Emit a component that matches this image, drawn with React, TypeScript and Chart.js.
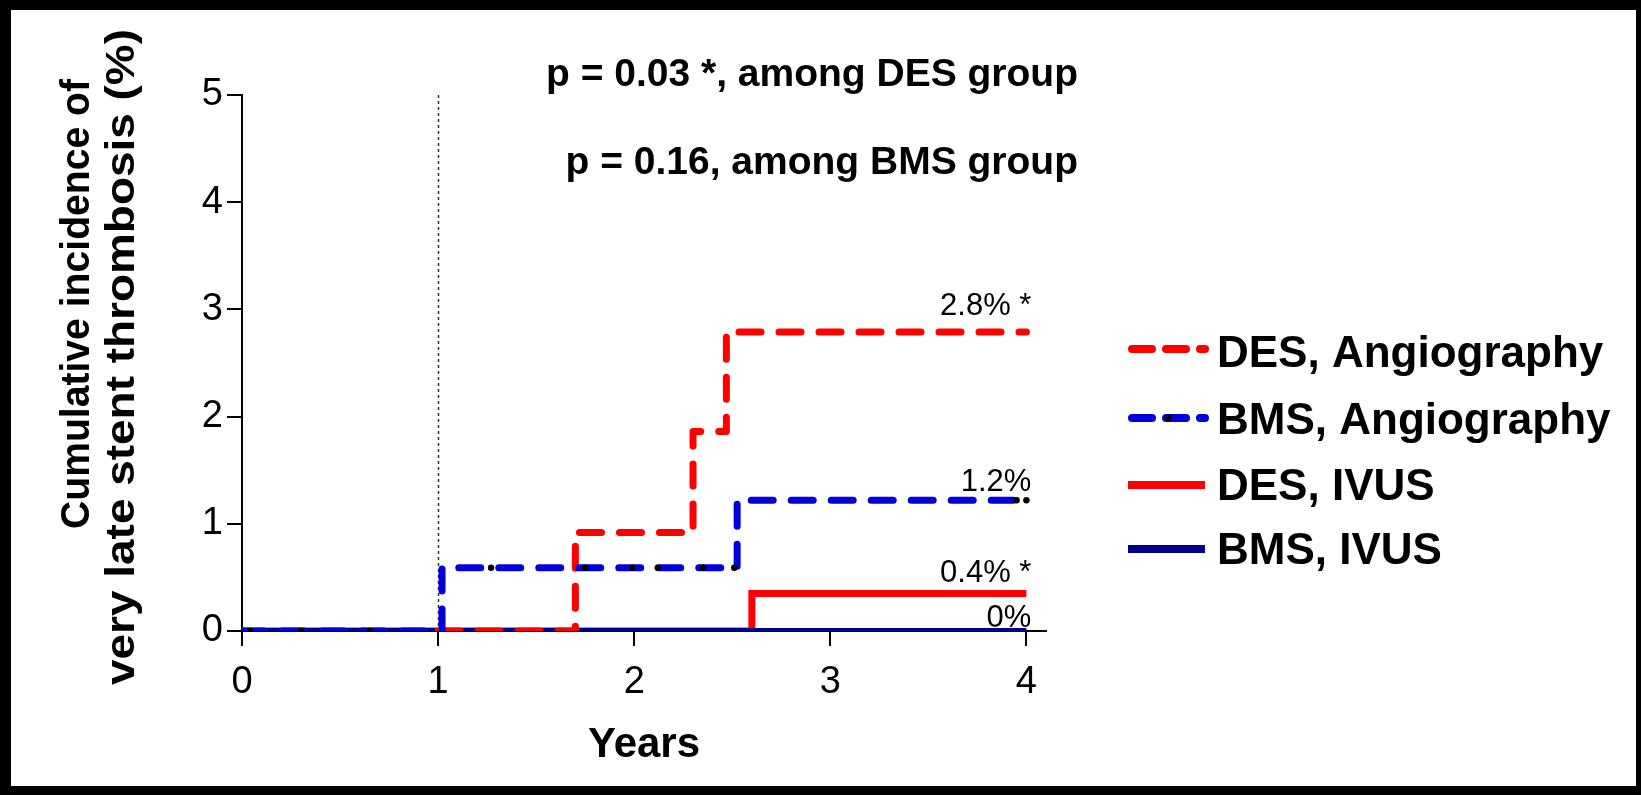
import React, { useEffect, useRef } from 'react';
import { Chart, registerables } from 'chart.js';

Chart.register(...registerables);

// ---------- data ----------
const xTickValues = [0, 1, 2, 3, 4];
const yTickValues = [0, 1, 2, 3, 4, 5];

const seriesNames = ['DES, Angiography', 'BMS, Angiography', 'DES, IVUS', 'BMS, IVUS'];

const desAngioYears = [1, 1.7, 2.3, 2.47, 4.0];
const desAngioPct = [0, 0.92, 1.86, 2.79, 2.79];

const bmsAngioYears = [0, 1.02, 2.525, 4.0];
const bmsAngioPct = [0, 0.59, 1.22, 1.22];

const desIvusYears = [0, 2.6, 4.0];
const desIvusPct = [0, 0.35, 0.35];

const bmsIvusYears = [0, 4.0];
const bmsIvusPct = [0, 0];

const censorYears = [0.04, 0.3, 0.65, 1.27, 1.75, 1.99, 2.12, 2.35, 2.51, 3.95, 4.0];
const censorPct = [0, 0, 0, 0.59, 0.59, 0.59, 0.59, 0.59, 0.59, 1.22, 1.22];

const endLabels = ['2.8% *', '1.2%', '0.4% *', '0%'];
const endLabelPct = [2.79, 1.22, 0.35, 0];

const pValueLines = ['p = 0.03 *, among DES group', 'p = 0.16, among BMS group'];
const yTitleLines = ['Cumulative incidence of', 'very late stent thrombosis (%)'];
const xTitle = 'Years';
const landmarkYear = 1;

// ---------- styles ----------
const FONT = "'Liberation Sans', Arial, Helvetica, sans-serif";
const RED = '#ff0000';
const BLUE = '#0000dc';
const NAVY = '#00008f';
const DASH = [22, 18];
const seriesColors = [RED, BLUE, RED, NAVY];
const seriesDashes = [DASH, DASH, [], []];
const seriesWidths = [7, 7, 7, 6];

const endLabelRise = [17, 9, 11, 4];

const pts = (xs: number[], ys: number[]) => xs.map((x, i) => ({ x, y: ys[i] }));

function stretchedText(
  ctx: CanvasRenderingContext2D,
  text: string,
  x: number,
  y: number,
  rotation: number,
  targetLen: number
) {
  const w = ctx.measureText(text).width;
  ctx.save();
  ctx.translate(x, y);
  ctx.rotate(rotation);
  ctx.scale(targetLen / w, 1);
  ctx.textAlign = 'center';
  ctx.textBaseline = 'alphabetic';
  ctx.fillText(text, 0, 0);
  ctx.restore();
}

const decorPlugin = {
  id: 'decor',
  beforeDraw(chart: any) {
    const { ctx, width, height } = chart;
    ctx.save();
    ctx.fillStyle = '#ffffff';
    ctx.fillRect(0, 0, width, height);
    ctx.fillStyle = '#000000';
    ctx.fillRect(0, 0, width, 10);
    ctx.fillRect(0, 0, 11, height);
    ctx.fillRect(width - 5, 0, 5, height);
    ctx.fillRect(0, height - 9, width, 9);
    ctx.restore();
  },
  beforeDatasetsDraw(chart: any) {
    const { ctx, scales } = chart;
    const xs = scales.x;
    const ys = scales.y;
    const px = Math.round(xs.getPixelForValue(landmarkYear)) + 0.5;
    ctx.save();
    ctx.strokeStyle = '#333333';
    ctx.lineWidth = 1.5;
    ctx.setLineDash([3, 3]);
    ctx.beginPath();
    ctx.moveTo(px, ys.getPixelForValue(yTickValues[yTickValues.length - 1]));
    ctx.lineTo(px, ys.getPixelForValue(0));
    ctx.stroke();
    ctx.restore();
  },
  afterDraw(chart: any) {
    const { ctx, scales, chartArea } = chart;
    const xs = scales.x;
    const ys = scales.y;
    ctx.save();
    ctx.fillStyle = '#000000';

    // p-values
    ctx.font = `bold 39px ${FONT}`;
    ctx.textAlign = 'right';
    ctx.textBaseline = 'alphabetic';
    ctx.fillText(pValueLines[0], 1078, 86);
    ctx.fillText(pValueLines[1], 1078, 174);

    // end labels
    ctx.font = `31px ${FONT}`;
    const endX = xs.getPixelForValue(xTickValues[xTickValues.length - 1]) + 5;
    endLabels.forEach((t, i) => {
      ctx.fillText(t, endX, ys.getPixelForValue(endLabelPct[i]) - endLabelRise[i]);
    });

    // y title (two lines, rotated)
    ctx.font = `bold 41px ${FONT}`;
    stretchedText(ctx, yTitleLines[0], 89, 304, -Math.PI / 2, 450);
    stretchedText(ctx, yTitleLines[1], 134, 357, -Math.PI / 2, 656);

    // x title
    ctx.font = `bold 42px ${FONT}`;
    ctx.textAlign = 'center';
    ctx.fillText(xTitle, (chartArea.left + chartArea.right) / 2, 757);

    // legend
    const lineY = [349, 418, 485, 549];
    const textY = [367, 434, 500, 564];
    seriesNames.forEach((name, i) => {
      ctx.save();
      ctx.strokeStyle = seriesColors[i];
      ctx.lineWidth = 8;
      ctx.lineCap = seriesDashes[i].length ? 'round' : 'butt';
      ctx.setLineDash(seriesDashes[i].length ? [20, 14] : []);
      ctx.beginPath();
      ctx.moveTo(seriesDashes[i].length ? 1132 : 1128, lineY[i]);
      ctx.lineTo(1205, lineY[i]);
      ctx.stroke();
      ctx.restore();
      if (i === 1) {
        ctx.beginPath();
        ctx.arc(1168, lineY[i], 3.5, 0, Math.PI * 2);
        ctx.fill();
      }
      ctx.font = `bold 44px ${FONT}`;
      ctx.textAlign = 'left';
      ctx.fillText(name, 1217, textY[i]);
    });
    ctx.restore();
  },
};

export default function App() {
  const canvasRef = useRef<HTMLCanvasElement | null>(null);

  useEffect(() => {
    const canvas = canvasRef.current;
    if (!canvas) return;
    const lineCommon = {
      type: 'line' as const,
      pointRadius: 0,
      fill: false,
      stepped: 'before' as const,
      borderCapStyle: 'round' as const,
      borderJoinStyle: 'round' as const,
    };
    const chart = new Chart(canvas, {
      type: 'line',
      data: {
        datasets: [
          {
            label: 'censored',
            type: 'line',
            data: pts(censorYears, censorPct),
            showLine: false,
            pointRadius: 3.2,
            pointBackgroundColor: '#000000',
            pointBorderWidth: 0,
            order: 0,
          },
          {
            ...lineCommon,
            label: seriesNames[1],
            data: pts(bmsAngioYears, bmsAngioPct),
            borderColor: BLUE,
            borderWidth: seriesWidths[1],
            borderDash: seriesDashes[1],
            order: 1,
          },
          {
            ...lineCommon,
            label: seriesNames[0],
            data: pts(desAngioYears, desAngioPct),
            borderColor: RED,
            borderWidth: seriesWidths[0],
            borderDash: seriesDashes[0],
            order: 2,
          },
          {
            ...lineCommon,
            label: seriesNames[3],
            data: pts(bmsIvusYears, bmsIvusPct),
            borderColor: NAVY,
            borderWidth: seriesWidths[3],
            borderCapStyle: 'butt',
            order: 3,
          },
          {
            ...lineCommon,
            label: seriesNames[2],
            data: pts(desIvusYears, desIvusPct),
            borderColor: RED,
            borderWidth: seriesWidths[2],
            borderCapStyle: 'butt',
            borderJoinStyle: 'miter',
            order: 4,
          },
        ] as any,
      },
      options: {
        responsive: false,
        animation: false,
        devicePixelRatio: 1,
        parsing: true,
        layout: { padding: { left: 182, right: 595, top: 95, bottom: 64 } },
        plugins: { legend: { display: false }, tooltip: { enabled: false } },
        scales: {
          x: {
            type: 'linear',
            min: 0,
            max: 4.1,
            afterBuildTicks: (s: any) => {
              s.ticks = xTickValues.map((v) => ({ value: v }));
            },
            afterFit: (s: any) => {
              s.height = 100;
            },
            grid: {
              display: true,
              drawOnChartArea: false,
              drawTicks: true,
              tickLength: 15,
              color: '#000000',
              lineWidth: 2,
            },
            border: { display: true, color: '#000000', width: 2 },
            ticks: {
              color: '#000000',
              font: { family: FONT, size: 38 },
              padding: 14,
              maxRotation: 0,
              autoSkip: false,
              callback: (v: any) => String(v),
            },
          },
          y: {
            type: 'linear',
            min: 0,
            max: 5,
            afterBuildTicks: (s: any) => {
              s.ticks = yTickValues.map((v) => ({ value: v }));
            },
            afterFit: (s: any) => {
              s.width = 60;
            },
            grid: {
              display: true,
              drawOnChartArea: false,
              drawTicks: true,
              tickLength: 15,
              color: '#000000',
              lineWidth: 2,
            },
            border: { display: true, color: '#000000', width: 2 },
            ticks: {
              color: '#000000',
              font: { family: FONT, size: 38 },
              padding: 4,
              autoSkip: false,
              callback: (v: any) => String(v),
            },
          },
        },
      } as any,
      plugins: [decorPlugin],
    });
    return () => chart.destroy();
  }, []);

  return (
    <div style={{ position: 'absolute', left: 0, top: 0, width: 1641, height: 795, background: '#fff' }}>
      <canvas ref={canvasRef} width={1641} height={795} style={{ display: 'block' }} />
    </div>
  );
}
